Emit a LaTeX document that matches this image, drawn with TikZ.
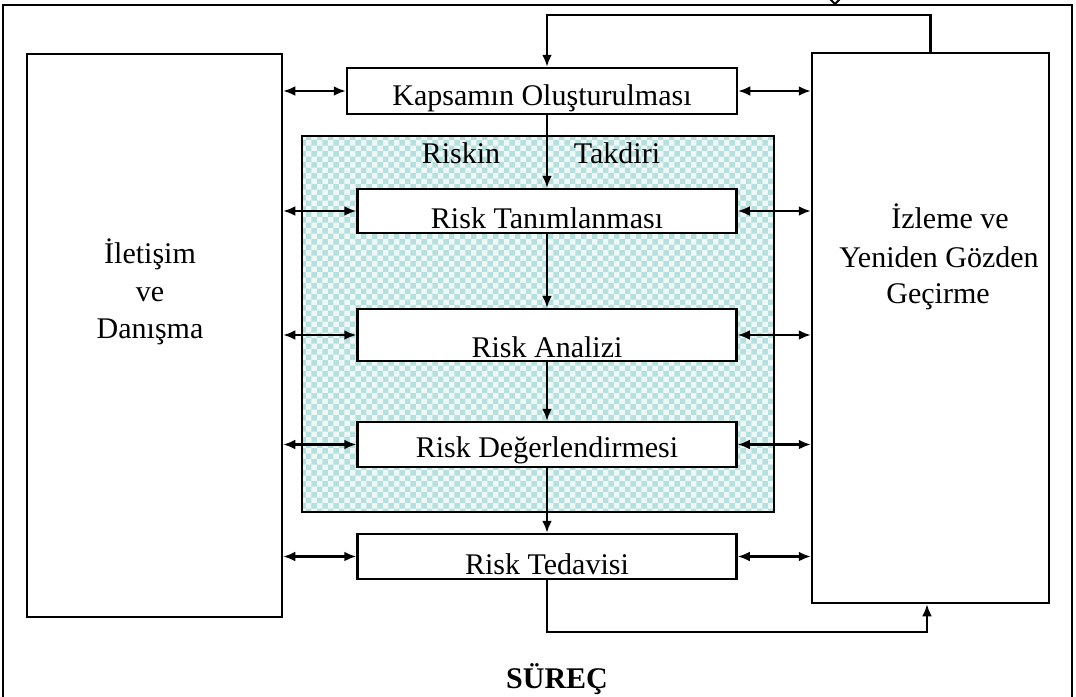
\documentclass[tikz,border=0pt]{standalone}
\usepackage{fontspec}
\setmainfont{Liberation Serif}
\usetikzlibrary{arrows.meta,patterns}
\definecolor{hatchc}{RGB}{182,224,222}
\definecolor{hatchbg}{RGB}{238,248,247}
\begin{document}
\begin{tikzpicture}[x=1pt,y=-1pt,
  every node/.style={font=\fontsize{30}{36}\selectfont},
  bx/.style={draw, line width=2.5pt, fill=white, inner sep=0pt, text depth=0pt},
  ln/.style={line width=2.4pt},
  arr/.style={ln, -{Latex[length=12pt,width=10pt]}},
  dbl/.style={ln, {Latex[length=12pt,width=10pt]}-{Latex[length=12pt,width=10pt]}},
  txt/.style={anchor=base, inner sep=0pt}]
\useasboundingbox (0,0) rectangle (1076,696);
\clip (0,0) rectangle (1076,696);
% outer frame
\draw[ln] (3,710) -- (3,5) -- (1072,5) -- (1072,710);
\draw[line width=1.8pt] (829,-2) -- (835,4) -- (841,-2);
% risk assessment area
\node[draw, line width=2.5pt, inner sep=0pt, minimum width=472pt, minimum height=376pt,
  preaction={fill=hatchbg}, pattern=checkerboard, pattern color=hatchc] (area) at (538,324) {};
% side boxes
\node[bx, minimum width=255pt, minimum height=563pt] (left) at (154.5,335.5) {};
\node[bx, minimum width=237pt, minimum height=550pt] (right) at (930.5,328) {};
% process boxes
\node[bx, minimum width=390pt, minimum height=46pt, text height=28pt] (kap) at (542,91) {Kapsamın Oluşturulması};
\node[bx, minimum width=379pt, minimum height=44pt, text height=34pt] (tan) at (547,211) {Risk Tanımlanması};
\node[bx, minimum width=379pt, minimum height=52pt, text height=44pt] (ana) at (547,335) {Risk Analizi};
\node[bx, minimum width=379pt, minimum height=45pt, text height=25pt] (deg) at (547,444.5) {Risk Değerlendirmesi};
\node[bx, minimum width=379pt, minimum height=45pt, text height=35pt] (ted) at (547,556.5) {Risk Tedavisi};
% texts
\node[txt] (l1) at (150,263) {İletişim};
\node[txt] (l2) at (150,301) {ve};
\node[txt] (l3) at (150,338) {Danışma};
\node[txt] (r1) at (950,228) {İzleme ve};
\node[txt] (r2) at (939,267) {Yeniden Gözden};
\node[txt] (r3) at (938,303) {Geçirme};
\node[txt] (rk1) at (461,163) {Riskin};
\node[txt] (rk2) at (617,163) {Takdiri};
\node[txt, font=\bfseries\fontsize{30}{36}\selectfont] (surec) at (557,688) {SÜREÇ};
% connectors
\coordinate (fbtop) at (547,15);
\coordinate (fbbot) at (927,632);
\draw[arr] (right.north) |- (fbtop) -- (kap.north -| fbtop);
\draw[arr] (kap.south -| tan.north) -- (tan.north);
\draw[arr] (tan.south) -- (ana.north);
\draw[arr] (ana.south) -- (deg.north);
\draw[arr] (deg.south) -- (ted.north);
\draw[arr] (ted.south) |- (fbbot) -- (fbbot |- right.south);
\foreach \n in {kap,tan,ana,deg,ted}{
  \draw[dbl] (left.east |- \n.west) -- (\n.west);
  \draw[dbl] (\n.east) -- (\n.east -| right.west);
}
\end{tikzpicture}
\end{document}
